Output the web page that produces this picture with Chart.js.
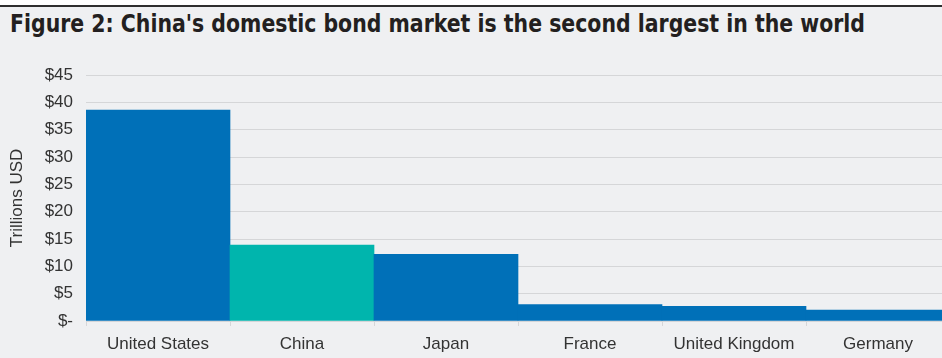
<!DOCTYPE html>
<html>
<head>
<meta charset="utf-8">
<script src="https://cdn.jsdelivr.net/npm/chart.js@4"></script>
<style>
  html, body { margin: 0; padding: 0; background: #fff; overflow: hidden; }
  #page { position: relative; width: 942px; height: 358px; overflow: hidden; }
  #bg { position: absolute; left: 0; top: 5px; width: 942px; height: 353px; background: #eff0f2; border-top: 2px solid #2e2e2e; }
  #title {
    position: absolute; left: 10px; top: 9px;
    font-family: "DejaVu Sans", sans-serif; font-stretch: condensed;
    font-weight: bold; font-size: 25px; color: #231f20; white-space: nowrap;
    transform-origin: 0 0;
  }
  #wrap { position: absolute; left: 0; top: 0; width: 952px; height: 358px; }
</style>
</head>
<body>
<div id="page">
  <div id="bg"></div>
  <div id="title">Figure 2: China's domestic bond market is the second largest in the world</div>
  <div id="wrap"><canvas id="chart" width="952" height="358"></canvas></div>
</div>
<script>
// ---------- Data ----------
const COUNTRIES = ['United States', 'China', 'Japan', 'France', 'United Kingdom', 'Germany'];
const BOND_MARKET = [38.6, 13.9, 12.2, 3.0, 2.7, 2.0]; // trillions USD
const BAR_COLORS = ['#0070b8', '#00b5ad', '#0070b8', '#0070b8', '#0070b8', '#0070b8'];
const Y_TICKS = [0, 5, 10, 15, 20, 25, 30, 35, 40, 45];

const TEXT = '#333333';
const FONT = { family: '"Liberation Sans", Arial, sans-serif', size: 17 };

// 제목은 좁은 폰트가 없어서 가로로 눌러 폭을 맞춤
const titleEl = document.getElementById('title');
const titleW = titleEl.getBoundingClientRect().width;
titleEl.style.transform = `scaleX(${855 / titleW})`;

new Chart(document.getElementById('chart').getContext('2d'), {
    type: 'bar',
    data: {
        labels: COUNTRIES,
        datasets: [{
            label: 'Trillions USD',
            data: BOND_MARKET,
            backgroundColor: BAR_COLORS,
            borderWidth: 0,
            barPercentage: 1,
            categoryPercentage: 1,
        }],
    },
    options: {
        responsive: false,
        animation: false,
        layout: { padding: { top: 75, right: 2, bottom: 0, left: 0 } },
        plugins: { legend: { display: false }, tooltip: { enabled: false } },
        scales: {
            x: {
                grid: { display: true, drawOnChartArea: false, offset: true, tickLength: 5, color: '#d5d6d8' },
                border: { display: true, color: '#d5d6d8' },
                ticks: { color: TEXT, font: FONT, padding: 8, maxRotation: 0 },
                afterFit: (scale) => { scale.height = 37; },
            },
            y: {
                min: 0,
                max: 45,
                afterBuildTicks: (scale) => { scale.ticks = Y_TICKS.map(v => ({ value: v })); },
                grid: { color: '#d5d6d8', drawTicks: false },
                border: { display: false },
                ticks: {
                    color: TEXT, font: FONT, padding: 13,
                    callback: (v) => v === 0 ? '$-' : '$' + v,
                },
                title: { display: true, text: 'Trillions USD', color: TEXT, font: FONT, padding: { top: 7, bottom: 0 } },
                afterFit: (scale) => { scale.width = 86; },
            },
        },
    },
});
</script>
</body>
</html>
